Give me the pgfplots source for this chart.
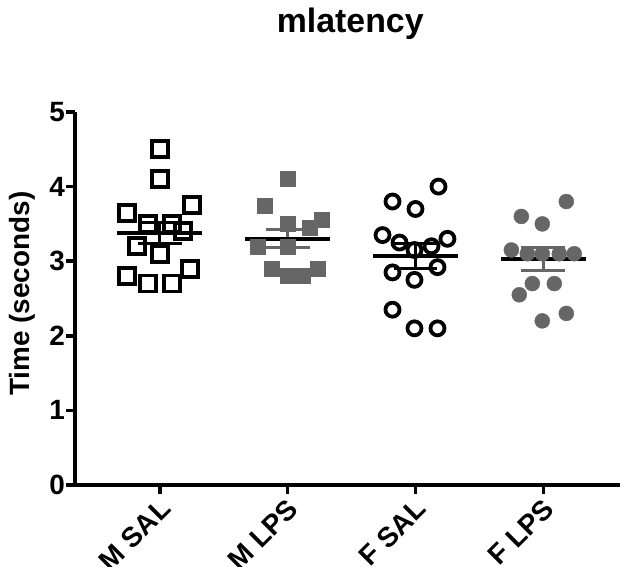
\documentclass[border=0pt]{standalone}
\usepackage{fontspec}
\setmainfont{Liberation Sans}
\usepackage{pgfplots}
\pgfplotsset{compat=1.18}
\definecolor{pgray}{RGB}{102,102,102}
\begin{document}
\begin{tikzpicture}
\useasboundingbox (-75bp,-82bp) rectangle (548bp,485bp);
\begin{axis}[
  scale only axis,
  width=545bp, height=373bp,
  xmin=0.336, xmax=4.60,
  ymin=0, ymax=5,
  axis x line*=bottom, axis y line*=left,
  axis line style={line width=4bp,-},
  xtick={1,2,3,4},
  xticklabels={M SAL,M LPS,F SAL,F LPS},
  ytick={0,1,2,3,4,5},
  tick align=outside,
  major tick length=9bp,
  tick style={line width=3.5bp,black},
  /pgf/number format/assume math mode=true,
  ticklabel style={font=\bfseries\fontsize{28}{32}\selectfont},
  yticklabel style={inner sep=1bp},
  xticklabel style={rotate=45, anchor=north east, inner sep=1bp, xshift=-2bp},
  ylabel={Time (seconds)},
  ylabel style={font=\bfseries\fontsize{28}{32}\selectfont, at={(axis description cs:-0.097,0.513)}, anchor=center},
  title={mlatency},
  title style={font=\bfseries\fontsize{34}{40}\selectfont, at={(axis description cs:0.505,1.198)}, anchor=base},
  clip=false,
]
% M SAL
\addplot[only marks, mark=square, mark size=8bp, line width=3.8bp, black] coordinates {
(1.000,4.5) (1.000,4.1) (1.250,3.75) (0.742,3.65) (0.906,3.5) (1.094,3.5) (1.180,3.4)
(0.820,3.2) (1.000,3.1) (1.234,2.9) (0.742,2.8) (0.906,2.7) (1.094,2.7)};
% M LPS
\addplot[only marks, mark=square*, mark size=7.5bp, pgray, mark options={draw=none,fill=pgray}] coordinates {
(2.000,4.1) (1.820,3.75) (2.000,3.5) (2.266,3.55) (2.172,3.45) (1.766,3.2) (2.000,3.2)
(1.875,2.9) (2.000,2.8) (2.117,2.8) (2.234,2.9)};
% F SAL
\addplot[only marks, mark=o, mark size=7bp, line width=3.8bp, black] coordinates {
(3.180,4.0) (2.820,3.8) (3.000,3.7) (2.742,3.35) (2.875,3.25) (3.250,3.3) (3.125,3.2)
(2.992,3.15) (3.172,2.92) (2.820,2.85) (2.992,2.75) (2.820,2.35) (2.992,2.1) (3.172,2.1)};
% F LPS
\addplot[only marks, mark=*, mark size=7.5bp, pgray, mark options={draw=none,fill=pgray}] coordinates {
(4.180,3.8) (3.828,3.6) (3.992,3.5) (3.750,3.15) (3.875,3.1) (3.992,3.1) (4.125,3.1)
(4.242,3.1) (3.914,2.7) (4.086,2.7) (3.812,2.55) (4.180,2.3) (3.992,2.2)};
% SEM bars
\addplot[black, line width=3bp] coordinates {(1,3.24) (1,3.52)};
\addplot[black, line width=3bp] coordinates {(0.828,3.24) (1.172,3.24)};
\addplot[black, line width=3bp] coordinates {(0.828,3.52) (1.172,3.52)};
\addplot[pgray, line width=3bp] coordinates {(2,3.19) (2,3.42)};
\addplot[pgray, line width=3bp] coordinates {(1.828,3.19) (2.172,3.19)};
\addplot[pgray, line width=3bp] coordinates {(1.828,3.42) (2.172,3.42)};
\addplot[black, line width=3bp] coordinates {(3,2.90) (3,3.24)};
\addplot[black, line width=3bp] coordinates {(2.828,2.90) (3.172,2.90)};
\addplot[black, line width=3bp] coordinates {(2.828,3.24) (3.172,3.24)};
\addplot[pgray, line width=3bp] coordinates {(4,2.88) (4,3.18)};
\addplot[pgray, line width=3bp] coordinates {(3.828,2.88) (4.172,2.88)};
\addplot[pgray, line width=3bp] coordinates {(3.828,3.18) (4.172,3.18)};
% means
\addplot[black, line width=4bp] coordinates {(0.668,3.38) (1.332,3.38)};
\addplot[black, line width=4bp] coordinates {(1.668,3.30) (2.332,3.30)};
\addplot[black, line width=4bp] coordinates {(2.668,3.07) (3.332,3.07)};
\addplot[black, line width=4bp] coordinates {(3.668,3.03) (4.332,3.03)};
\end{axis}
\end{tikzpicture}
\end{document}
